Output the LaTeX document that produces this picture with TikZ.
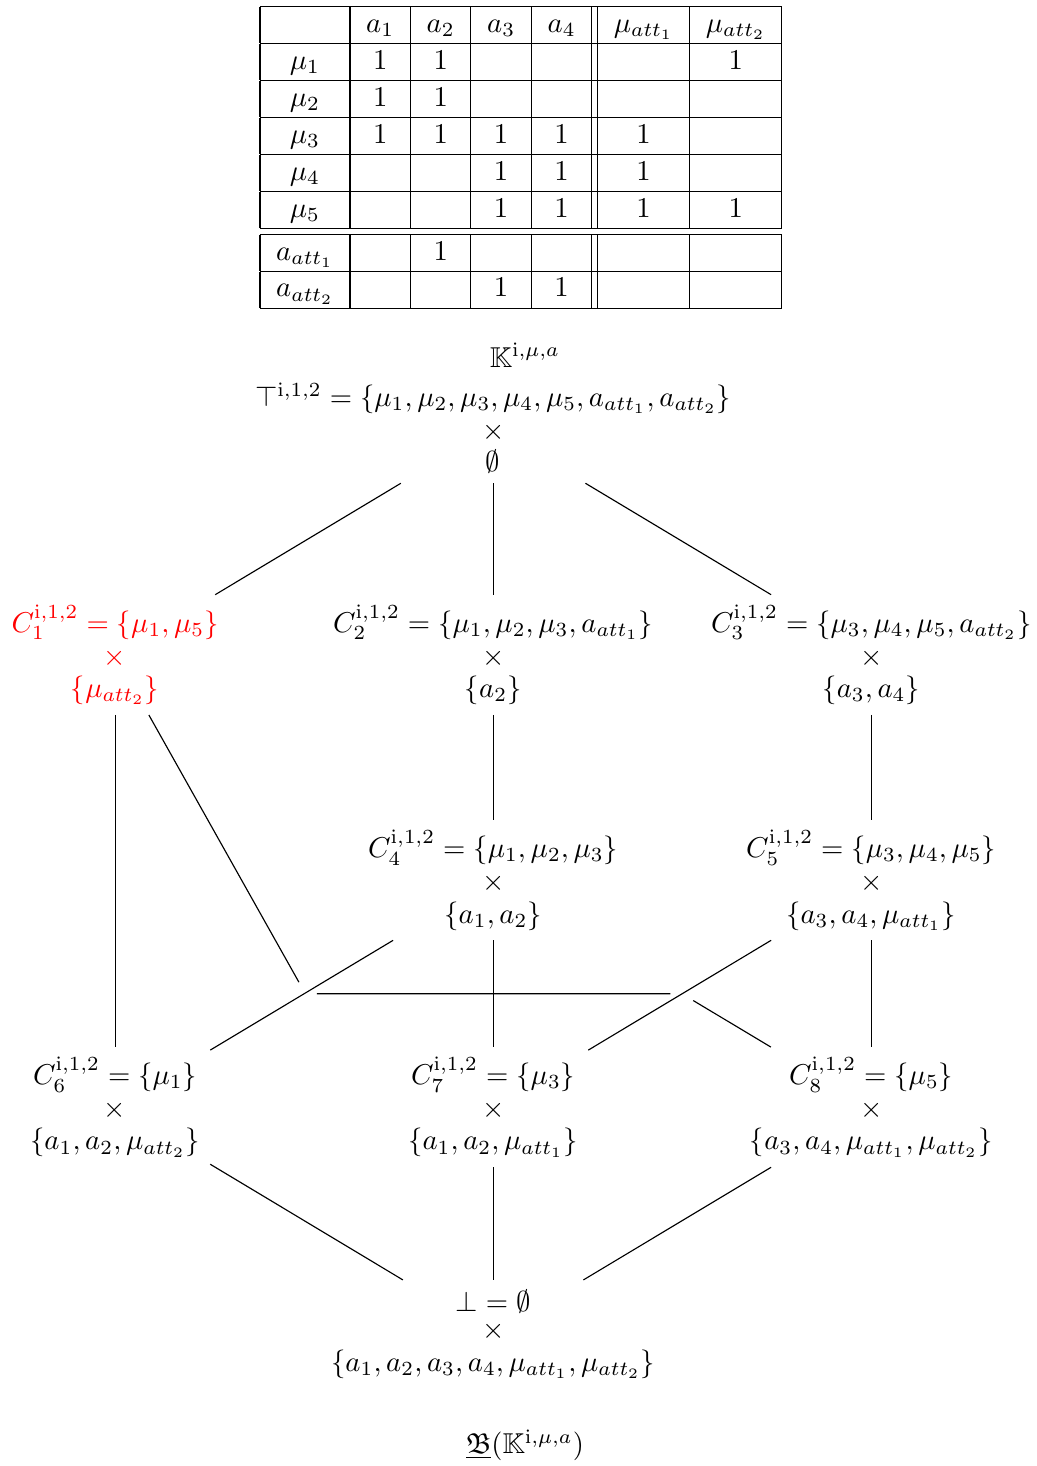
\documentclass[tikz,border=0pt]{standalone}
\usepackage{amssymb}

\begin{document}
\begin{tikzpicture}[hi/.style={text=red}]
  \useasboundingbox (0,0) rectangle (12.70,-17.955);
  \node (ctab) at (6.38,-1.93) {%
    \setlength{\tabcolsep}{5.65pt}\renewcommand{\arraystretch}{1.04}%
    \begin{tabular}{|c|c|c|c|c||c|c|}
      \hline
              & $a_1$ & $a_2$ & $a_3$ & $a_4$ & $\mu_{att_1}$ & $\mu_{att_2}$ \\ \hline
      $\mu_1$ & 1 & 1 &   &   &   & 1 \\ \hline
      $\mu_2$ & 1 & 1 &   &   &   &   \\ \hline
      $\mu_3$ & 1 & 1 & 1 & 1 & 1 &   \\ \hline
      $\mu_4$ &   &   & 1 & 1 & 1 &   \\ \hline
      $\mu_5$ &   &   & 1 & 1 & 1 & 1 \\ \hline\hline
      $a_{att_1}$ &   & 1 &   &   &   &   \\ \hline
      $a_{att_2}$ &   &   & 1 & 1 &   &   \\ \hline
    \end{tabular}};
  \node (ctx) at (6.43,-4.35) {$\mathbb{K}^{\mathrm{i},\mu,a}$};

  % lattice
  \node (top) at (6.04,-5.24) {\shortstack{$\top^{\mathrm{i},1,2}=\{\mu_1,\mu_2,\mu_3,\mu_4,\mu_5,a_{att_1},a_{att_2}\}$\\$\times$\\$\emptyset$}};
  \node[hi] (c1) at (1.41,-8.02) {\shortstack{$C_1^{\mathrm{i},1,2}=\{\mu_1,\mu_5\}$\\$\times$\\$\{\mu_{att_2}\}$}};
  \node (c2) at (6.04,-8.02) {\shortstack{$C_2^{\mathrm{i},1,2}=\{\mu_1,\mu_2,\mu_3,a_{att_1}\}$\\$\times$\\$\{a_2\}$}};
  \node (c3) at (10.67,-8.02) {\shortstack{$C_3^{\mathrm{i},1,2}=\{\mu_3,\mu_4,\mu_5,a_{att_2}\}$\\$\times$\\$\{a_3,a_4\}$}};
  \node (c4) at (6.04,-10.78) {\shortstack{$C_4^{\mathrm{i},1,2}=\{\mu_1,\mu_2,\mu_3\}$\\$\times$\\$\{a_1,a_2\}$}};
  \node (c5) at (10.67,-10.78) {\shortstack{$C_5^{\mathrm{i},1,2}=\{\mu_3,\mu_4,\mu_5\}$\\$\times$\\$\{a_3,a_4,\mu_{att_1}\}$}};
  \node (c6) at (1.41,-13.56) {\shortstack{$C_6^{\mathrm{i},1,2}=\{\mu_1\}$\\$\times$\\$\{a_1,a_2,\mu_{att_2}\}$}};
  \node (c7) at (6.04,-13.56) {\shortstack{$C_7^{\mathrm{i},1,2}=\{\mu_3\}$\\$\times$\\$\{a_1,a_2,\mu_{att_1}\}$}};
  \node (c8) at (10.67,-13.56) {\shortstack{$C_8^{\mathrm{i},1,2}=\{\mu_5\}$\\$\times$\\$\{a_3,a_4,\mu_{att_1},\mu_{att_2}\}$}};
  \node (bot) at (6.04,-16.34) {\shortstack{$\bot=\emptyset$\\$\times$\\$\{a_1,a_2,a_3,a_4,\mu_{att_1},\mu_{att_2}\}$}};
  \node (cap) at (6.43,-17.70) {$\underline{\mathfrak{B}}(\mathbb{K}^{\mathrm{i},\mu,a})$};

  % bends of the edge c1 -- c8
  \node[inner sep=3.8pt] (b1) at (3.74,-12.17) {};
  \node[inner sep=3.8pt] (b2) at (8.35,-12.17) {};

  \draw (top) -- (c1);
  \draw (top) -- (c2);
  \draw (top) -- (c3);
  \draw (c1) -- (c6);
  \draw (c1) -- (b1) -- (b2) -- (c8);
  \draw (c2) -- (c4);
  \draw (c3) -- (c5);
  \draw (c4) -- (c6);
  \draw (c4) -- (c7);
  \draw (c5) -- (c7);
  \draw (c5) -- (c8);
  \draw (c6) -- (bot);
  \draw (c7) -- (bot);
  \draw (c8) -- (bot);
\end{tikzpicture}
\end{document}
